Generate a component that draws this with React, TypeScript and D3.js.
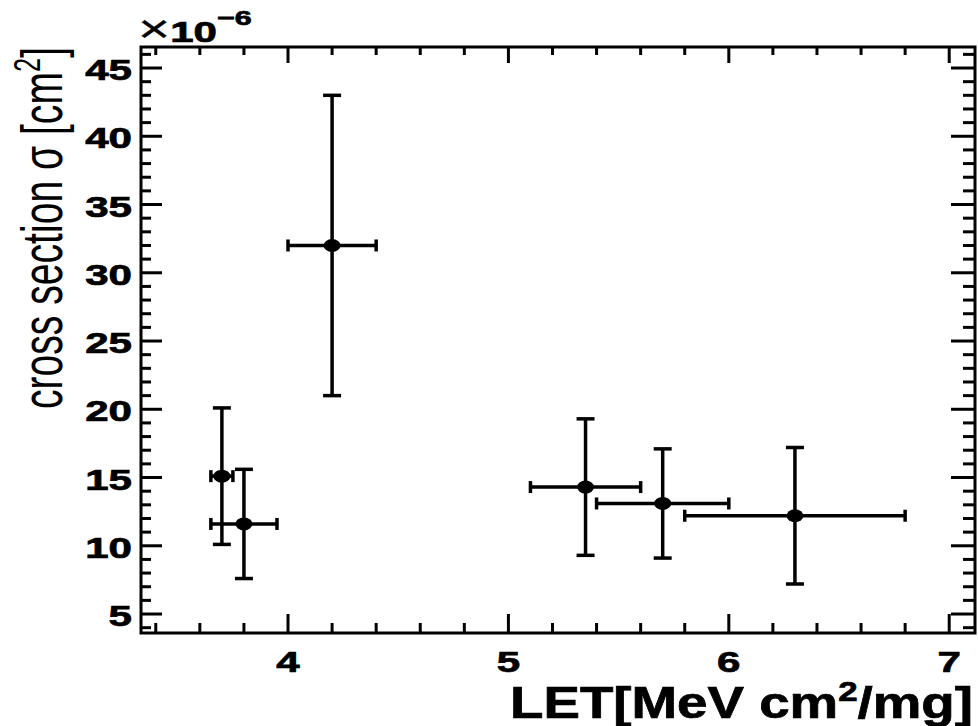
import React, { useEffect, useRef } from 'react';
import * as d3 from 'd3';

// LET values with horizontal errors, cross sections (x1e-6 cm2) with vertical errors
const letValues = [3.7, 3.8, 4.2, 5.35, 5.7, 6.3];
const letErrors = [0.05, 0.15, 0.2, 0.25, 0.3, 0.5];
const sigmaValues = [15.1, 11.6, 32, 14.3, 13.1, 12.2];
const sigmaErrors = [5, 4, 11, 5, 4, 5];

const xTickValues = [4, 5, 6, 7];
const yTickValues = [5, 10, 15, 20, 25, 30, 35, 40, 45];

const W = 978;
const H = 726;
const frame = { left: 141, right: 975, top: 47, bottom: 633 };
const SX = 1.45; // the original picture is stretched horizontally
const font = '"Liberation Sans", Arial, Helvetica, sans-serif';

function App() {
  const ref = useRef<SVGSVGElement>(null);

  useEffect(() => {
    const svg = d3.select(ref.current);
    svg.selectAll('*').remove();

    const x = d3.scaleLinear().domain([3.333, 7.117]).range([frame.left, frame.right]);
    const y = d3.scaleLinear().domain([3.61, 46.54]).range([frame.bottom, frame.top]);

    const data = letValues.map((v, i) => ({ x: v, dx: letErrors[i], y: sigmaValues[i], dy: sigmaErrors[i] }));

    const axes = svg.append('g').attr('stroke', '#000').attr('stroke-width', 3);

    // ticks
    const xMinor = d3.range(3.4, 7.01, 0.2).filter(v => !xTickValues.some(t => Math.abs(t - v) < 1e-6));
    const yMinor = d3.range(4, 46.5, 1).filter(v => v % 5 !== 0);

    const tickLines = (vals: number[], len: number, bottomLen: number) => {
      vals.forEach(v => {
        axes.append('line').attr('x1', x(v)).attr('x2', x(v)).attr('y1', frame.bottom).attr('y2', frame.bottom - bottomLen);
        axes.append('line').attr('x1', x(v)).attr('x2', x(v)).attr('y1', frame.top).attr('y2', frame.top + len);
      });
    };
    tickLines(xTickValues, 16, 19);
    tickLines(xMinor, 8, 10);

    const yTickLines = (vals: number[], leftLen: number, rightLen: number) => {
      vals.forEach(v => {
        axes.append('line').attr('x1', frame.left).attr('x2', frame.left + leftLen).attr('y1', y(v)).attr('y2', y(v));
        axes.append('line').attr('x1', frame.right).attr('x2', frame.right - rightLen).attr('y1', y(v)).attr('y2', y(v));
      });
    };
    yTickLines(yTickValues, 21, 24);
    yTickLines(yMinor, 10, 12);

    axes.append('rect')
      .attr('x', frame.left).attr('y', frame.top)
      .attr('width', frame.right - frame.left).attr('height', frame.bottom - frame.top)
      .attr('fill', 'none');

    // tick labels
    const boldText = (sel: any) => sel
      .attr('font-family', font).attr('font-weight', 'bold')
      .attr('stroke', '#000').attr('stroke-width', 0.7).attr('fill', '#000');

    xTickValues.forEach(v => {
      svg.append('text')
        .attr('transform', `translate(${x(v)},672) scale(${SX},1)`)
        .attr('text-anchor', 'middle')
        .call(boldText).attr('font-size', 29)
        .text(v);
    });
    yTickValues.forEach(v => {
      svg.append('text')
        .attr('transform', `translate(132,${y(v) + 12}) scale(${SX},1)`)
        .attr('text-anchor', 'end')
        .call(boldText).attr('font-size', 29)
        .text(v);
    });

    // exponent
    const expo = svg.append('text')
      .attr('transform', `translate(138,42) scale(${SX},1)`)
      .call(boldText).attr('font-size', 29);
    expo.append('tspan').attr('font-weight', 'normal').attr('font-size', 38).attr('stroke-width', 0.3).text('×');
    expo.append('tspan').text('10');
    expo.append('tspan').attr('dy', -17).attr('font-size', 21).text('−6');

    // axis titles
    const xt = svg.append('text')
      .attr('x', 510).attr('y', 718)
      .call(boldText).attr('font-size', 44)
      .attr('textLength', 463).attr('lengthAdjust', 'spacingAndGlyphs');
    xt.append('tspan').text('LET[MeV cm');
    xt.append('tspan').attr('dy', -17).attr('font-size', 28).text('2');
    xt.append('tspan').attr('dy', 17).text('/mg]');

    const yt = svg.append('text')
      .attr('transform', `translate(62,47) scale(${SX},1) rotate(-90)`)
      .attr('text-anchor', 'end')
      .attr('font-family', font).attr('font-size', 40)
      .attr('textLength', 362).attr('lengthAdjust', 'spacingAndGlyphs');
    yt.append('tspan').text('cross section σ [cm');
    yt.append('tspan').attr('dy', -15).attr('font-size', 26).text('2');
    yt.append('tspan').attr('dy', 15).text(']');

    // error bars
    const g = svg.append('g').attr('stroke', '#000').attr('stroke-width', 3.5);
    const pts = g.selectAll('g.pt').data(data).enter().append('g').attr('class', 'pt');
    pts.append('line')
      .attr('x1', d => x(d.x - d.dx)).attr('x2', d => x(d.x + d.dx))
      .attr('y1', d => y(d.y)).attr('y2', d => y(d.y));
    pts.append('line')
      .attr('x1', d => x(d.x)).attr('x2', d => x(d.x))
      .attr('y1', d => y(d.y - d.dy)).attr('y2', d => y(d.y + d.dy));
    // caps
    pts.append('line')
      .attr('x1', d => x(d.x - d.dx)).attr('x2', d => x(d.x - d.dx))
      .attr('y1', d => y(d.y) - 6).attr('y2', d => y(d.y) + 6);
    pts.append('line')
      .attr('x1', d => x(d.x + d.dx)).attr('x2', d => x(d.x + d.dx))
      .attr('y1', d => y(d.y) - 6).attr('y2', d => y(d.y) + 6);
    pts.append('line')
      .attr('x1', d => x(d.x) - 9).attr('x2', d => x(d.x) + 9)
      .attr('y1', d => y(d.y + d.dy)).attr('y2', d => y(d.y + d.dy));
    pts.append('line')
      .attr('x1', d => x(d.x) - 9).attr('x2', d => x(d.x) + 9)
      .attr('y1', d => y(d.y - d.dy)).attr('y2', d => y(d.y - d.dy));
    pts.append('ellipse')
      .attr('cx', d => x(d.x)).attr('cy', d => y(d.y))
      .attr('rx', 8.5).attr('ry', 6.5)
      .attr('fill', '#000').attr('stroke', 'none');
  }, []);

  return (
    <svg ref={ref} width={W} height={H} style={{ position: 'absolute', left: 0, top: 0, background: '#fff' }} />
  );
}

export default App;
